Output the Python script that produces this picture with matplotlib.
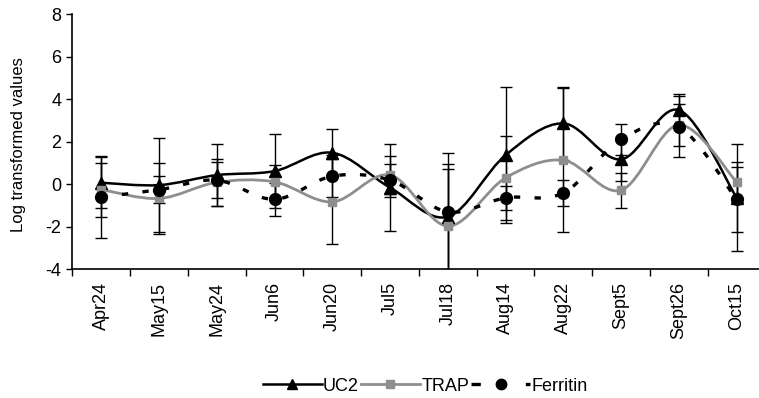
import matplotlib
matplotlib.use("Agg")
import matplotlib.pyplot as plt
import numpy as np
from matplotlib.path import Path
from matplotlib.patches import PathPatch
from matplotlib.lines import Line2D

plt.rcParams['font.family'] = ['Liberation Sans', 'DejaVu Sans']

dates = ["Apr24", "May15", "May24", "Jun6", "Jun20", "Jul5",
         "Jul18", "Aug14", "Aug22", "Sept5", "Sept26", "Oct15"]

uc2 = [0.08, -0.03, 0.44, 0.63, 1.49, -0.15, -1.52, 1.38, 2.87, 1.18, 3.5, -0.62]
uc2_err = [1.21, 2.2, 1.46, 1.72, 1.11, 2.05, 2.5, 3.21, 1.72, 1.0, 0.74, 2.52]

trap = [-0.24, -0.66, 0.1, 0.12, -0.82, 0.44, -1.96, 0.31, 1.14, -0.27, 2.8, 0.12]
trap_err = [1.27, 1.68, 1.12, 0.79, 2.0, 0.89, 2.67, 1.96, 3.4, 0.83, 1.0, 0.94]

ferritin = [-0.58, -0.25, 0.2, -0.7, 0.39, 0.2, -1.29, -0.63, -0.4, 2.12, 2.71, -0.7]
ferritin_err = [1.93, 0.63, 0.86, 0.79, 1.0, 0.78, 2.79, 0.55, 0.6, 0.72, 1.44, 1.53]


def smooth_path(x, y):
    # bezier through the points, excel style smoothing (tension 1/6)
    pts = np.column_stack([x, y]).astype(float)
    n = len(pts)
    verts = [pts[0]]
    codes = [Path.MOVETO]
    for i in range(n - 1):
        p0 = pts[max(i - 1, 0)]
        p1 = pts[i]
        p2 = pts[i + 1]
        p3 = pts[min(i + 2, n - 1)]
        c1 = p1 + (p2 - p0) / 6.0
        c2 = p2 - (p3 - p1) / 6.0
        verts += [c1, c2, p2]
        codes += [Path.CURVE4] * 3
    return Path(verts, codes)


fig = plt.figure(figsize=(7.59, 3.98), dpi=100)
ax = fig.add_axes([0.0955, 0.3229, 0.913, 0.641])

x = np.arange(len(dates))
grey = '#8e8e8e'

series = [
    (uc2, uc2_err, 'black', '^', 8.5, 1.8, '-'),
    (trap, trap_err, grey, 's', 6.0, 2.0, '-'),
    (ferritin, ferritin_err, 'black', 'o', 8.5, 2.4, (0, (1.9, 4.3))),
]

for vals, err, col, mk, ms, lw, ls in series:
    ax.errorbar(x, vals, yerr=err, fmt='none', ecolor='black', elinewidth=1.0,
                capsize=4.0, capthick=1.0, zorder=2)
    patch = PathPatch(smooth_path(x, vals), facecolor='none', edgecolor=col,
                      linewidth=lw, linestyle=ls, capstyle='butt', zorder=3)
    ax.add_patch(patch)
    ax.plot(x, vals, linestyle='none', marker=mk, color=col, ms=ms, zorder=4)

ax.set_xlim(-0.5, len(dates) - 0.5)
ax.set_ylim(-4, 8)
ax.set_yticks(np.arange(-4, 9, 2))
ax.set_yticklabels([str(v) for v in range(-4, 9, 2)])

# ticks sit between categories, labels at category centres
ax.set_xticks(np.arange(len(dates) + 1) - 0.5)
ax.set_xticklabels([])
ax.set_xticks(x, minor=True)
ax.set_xticklabels(dates, minor=True, rotation=90, va='top', ha='center')
ax.tick_params(axis='x', which='major', direction='out', length=5, width=1.0)
ax.tick_params(axis='x', which='minor', length=0, pad=9.0, labelsize=13)
ax.tick_params(axis='y', direction='out', length=4, width=1.0, pad=4, labelsize=13)

for side in ['top', 'right']:
    ax.spines[side].set_visible(False)
for side in ['left', 'bottom']:
    ax.spines[side].set_linewidth(1.2)

ax.set_ylabel("Log transformed values", fontsize=12)
ax.yaxis.set_label_coords(-0.067, 0.49)

handles = [
    Line2D([], [], color='black', lw=1.8, marker='^', ms=7),
    Line2D([], [], color=grey, lw=2.0, marker='s', ms=5.5),
    Line2D([], [], color='black', lw=2.4, marker='o', ms=7.5,
           linestyle=(0, (2.8, 13.5))),
]
fig.legend(handles, ["UC2", "TRAP", "Ferritin"], loc='center',
           bbox_to_anchor=(0.56, 0.03), ncol=3, frameon=False, fontsize=13,
           handlelength=3.3, handletextpad=0.05, columnspacing=0.1,
           numpoints=1)

fig.savefig("out.png", dpi=100)
